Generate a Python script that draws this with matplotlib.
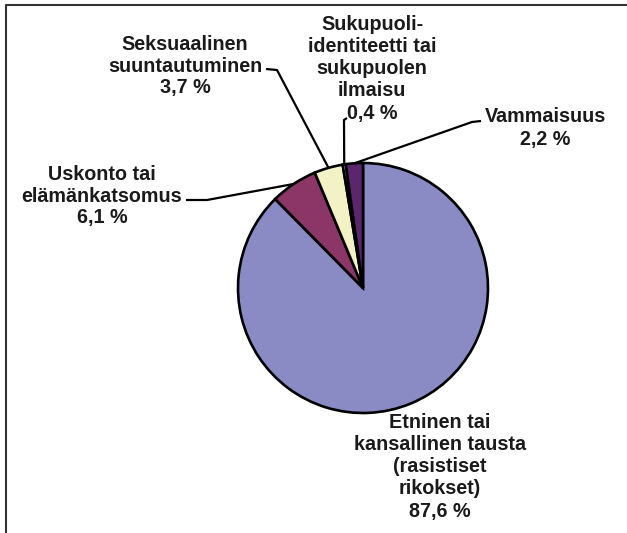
import numpy as np
import matplotlib.pyplot as plt

W, H = 627, 533

# data (clockwise from 12 o'clock)
labels = ["Etninen tai\nkansallinen tausta\n(rasistiset\nrikokset)\n87,6 %",
          "Uskonto tai\nelämänkatsomus\n6,1 %",
          "Seksuaalinen\nsuuntautuminen\n3,7 %",
          "Sukupuoli-\nidentiteetti tai\nsukupuolen\nilmaisu\n0,4 %",
          "Vammaisuus\n2,2 %"]
values = [87.6, 6.1, 3.7, 0.4, 2.2]
colors = ["#8A8AC4", "#8B3666", "#F2F2C6", "#CCFFFF", "#5C266E"]

# label layout in pixel coords (x, y from top)
label_pos = [(440, 467), (102, 196), (185, 66), (372, 69), (545, 128)]
# elbow points of leader lines (None = no leader)
elbows = [None,
          [(186, 200), (207, 200)],
          [(266, 69), (277, 70)],
          [(347, 118), (344, 120)],
          [(481, 121), (472, 122)]]

cx, cy, r = 363, 288, 125

fig = plt.figure(figsize=(W / 100, H / 100), dpi=100)
ax = fig.add_axes([0, 0, 1, 1])
ax.set_xlim(0, W)
ax.set_ylim(0, H)
ax.set_aspect('equal')
ax.axis('off')

wedges, _ = ax.pie(values, colors=colors, startangle=90, counterclock=False,
                   center=(cx, H - cy), radius=r,
                   wedgeprops=dict(edgecolor='black', linewidth=1.9))
ax.set_xlim(0, W)
ax.set_ylim(0, H)

font = dict(family=['Liberation Sans', 'DejaVu Sans'], fontweight='bold', fontsize=14.2)
for lab, (x, y) in zip(labels, label_pos):
    ax.text(x, H - y, lab, ha='center', va='center', linespacing=1.2,
            color='#1a1a1a', **font)

# leader lines to the middle of each wedge's arc
for w, el in zip(wedges, elbows):
    if el is None:
        continue
    mid = np.deg2rad((w.theta1 + w.theta2) / 2)
    px = cx + r * np.cos(mid)
    py = H - cy + r * np.sin(mid)
    xs = [p[0] for p in el] + [px]
    ys = [H - p[1] for p in el] + [py]
    ax.plot(xs, ys, color='black', linewidth=1.6, solid_capstyle='butt')

# frame (top and left only)
ax.plot([6, 6, W], [0, H - 5, H - 5], color='#333333', linewidth=1.5)

fig.savefig('out.png', dpi=100, facecolor='white')
